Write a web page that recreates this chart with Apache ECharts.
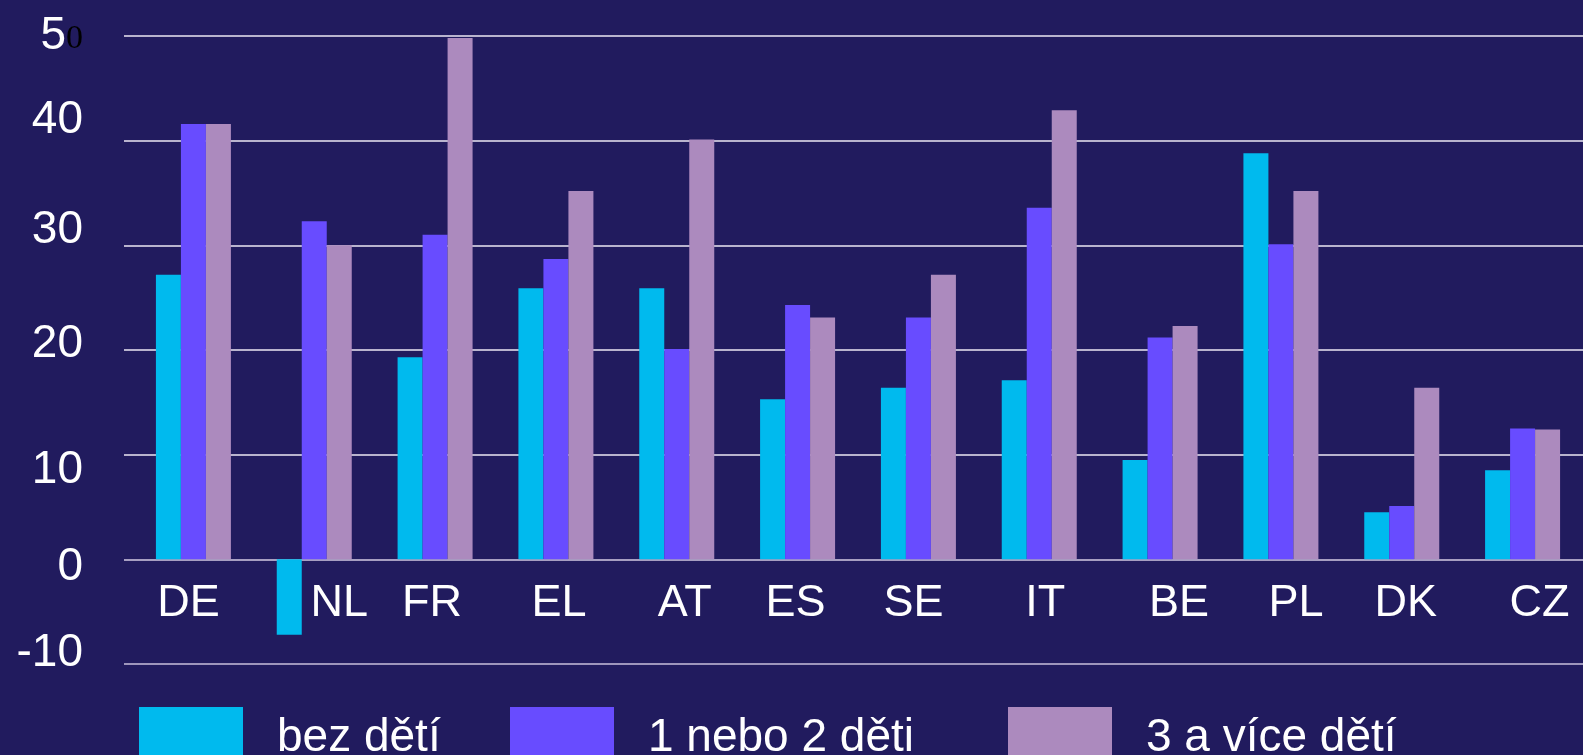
<!DOCTYPE html>
<html>
<head>
<meta charset="utf-8">
<script src="https://cdn.jsdelivr.net/npm/echarts@6/dist/echarts.min.js"></script>
<style>
html,body{margin:0;padding:0;background:#211B5E;}
#chart{width:1583px;height:755px;}
</style>
</head>
<body>
<div id="chart"></div>
<script>
const categories = ['DE','NL','FR','EL','AT','ES','SE','IT','BE','PL','DK','CZ'];
const bezDeti = [27.2, -7.2, 19.3, 25.9, 25.9, 15.3, 16.4, 17.1, 9.5, 38.8, 4.5, 8.5];
const jednoNeboDve = [41.6, 32.3, 31.0, 28.7, 20.1, 24.3, 23.1, 33.6, 21.2, 30.1, 5.1, 12.5];
const triAVice = [41.6, 30.0, 49.8, 35.2, 40.1, 23.1, 27.2, 42.9, 22.3, 35.2, 16.4, 12.4];
const seriesNames = ['bez dětí', '1 nebo 2 děti', '3 a více dětí'];
const yTicks = [-10, 0, 10, 20, 30, 40, 50];

const FONT = '"Liberation Sans", Arial, sans-serif';
const colors = ['#00BAEE', '#684CFF', '#AC8ABE'];

const PLOT_TOP = 36, PLOT_BOTTOM = 91, H = 755;
const ZERO_Y = PLOT_TOP + (H - PLOT_TOP - PLOT_BOTTOM) * 5 / 6; // y of value 0

// per-label vertical nudges (px, positive = down)
const yShift = {'-10': -11, '0': 8, '10': 16, '20': -6, '30': -15, '40': -20, '50': -4};
// per-category horizontal nudges (px, positive = right)
const xShift = {DE:-5, NL:25, FR:-3, EL:3, AT:8, ES:-2, SE:-5, IT:6, BE:19, PL:15, DK:4, CZ:17};

const yRich = {};
yTicks.forEach(function (t, i) {
  const s = yShift[String(t)];
  const pad = s >= 0 ? [2 * s, 0, 0, 0] : [0, 0, -2 * s, 0];
  yRich['y' + i] = {color: '#ffffff', fontSize: 46, fontFamily: FONT, padding: pad};
});
yRich.five = {color: '#ffffff', fontSize: 46, fontFamily: FONT, lineHeight: 46, verticalAlign: 'bottom'};
yRich.zero = {color: '#000000', fontSize: 34, fontFamily: '"Liberation Serif", "Times New Roman", serif', lineHeight: 34, verticalAlign: 'bottom', padding: [0, 0, 3, 0]};

const xRich = {};
categories.forEach(function (c) {
  const d = xShift[c];
  xRich[c] = {color: '#ffffff', fontSize: 45, fontFamily: FONT,
    padding: d >= 0 ? [0, 0, 0, 2 * d] : [0, -2 * d, 0, 0]};
});

const chart = echarts.init(document.getElementById('chart'), null, {renderer: 'canvas'});

function legendFor(i, left) {
  return {
    show: true, left: left, top: 707, orient: 'horizontal', padding: 0,
    data: [seriesNames[i]], icon: 'rect', itemWidth: 104, itemHeight: 62,
    selectedMode: false,
    textStyle: {color: '#ffffff', fontSize: 46, fontFamily: FONT, padding: [0, 0, 6, 29]}
  };
}

const option = {
  backgroundColor: '#211B5E',
  animation: false,
  color: colors,
  legend: [legendFor(0, 139), legendFor(1, 510), legendFor(2, 1008)],
  grid: [
    {left: 124, right: 0, top: PLOT_TOP, bottom: PLOT_BOTTOM},
    {left: 133, width: 1452, top: PLOT_TOP, bottom: PLOT_BOTTOM},
    {left: 133, width: 1452, top: PLOT_TOP, bottom: H - ZERO_Y}
  ],
  xAxis: [
    {gridIndex: 0, type: 'value', show: false, min: 0, max: 1},
    {gridIndex: 1, type: 'category', data: categories,
      axisLine: {show: false}, axisTick: {show: false}, axisLabel: {show: false}},
    {gridIndex: 2, type: 'category', data: categories,
      axisLine: {show: false}, axisTick: {show: false},
      axisLabel: {margin: 22, interval: 0,
        formatter: function (v) { return '{' + v + '|' + v + '}'; },
        rich: xRich}}
  ],
  yAxis: [
    {gridIndex: 0, type: 'value', min: -10, max: 50, interval: 10,
      axisLine: {show: false}, axisTick: {show: false},
      axisLabel: {margin: 41, color: '#ffffff', fontSize: 46, fontFamily: FONT,
        formatter: function (v) {
          if (v === 50) return '{five|5}{zero|0}';
          const i = yTicks.indexOf(v);
          return '{y' + i + '|' + v + '}';
        },
        rich: yRich},
      splitLine: {show: true, lineStyle: {color: ['#C8C0DC', '#D4CCE4', '#ECE8F4', '#ECE8F4', '#ECE8F4', '#ECE8F4', '#ECE8F4'], width: 1.6}}
    },
    {gridIndex: 1, type: 'value', min: -10, max: 50, interval: 10, show: false,
      splitLine: {show: false}},
    {gridIndex: 2, type: 'value', min: 0, max: 50, show: false,
      splitLine: {show: false}}
  ],
  series: [
    {name: seriesNames[0], type: 'bar', xAxisIndex: 1, yAxisIndex: 1, data: bezDeti,
      barWidth: 25, barGap: '0%', itemStyle: {color: colors[0]}},
    {name: seriesNames[1], type: 'bar', xAxisIndex: 1, yAxisIndex: 1, data: jednoNeboDve,
      barWidth: 25, barGap: '0%', itemStyle: {color: colors[1]}},
    {name: seriesNames[2], type: 'bar', xAxisIndex: 1, yAxisIndex: 1, data: triAVice,
      barWidth: 25, barGap: '0%', itemStyle: {color: colors[2]}}
  ]
};
chart.setOption(option);
</script>
</body>
</html>
